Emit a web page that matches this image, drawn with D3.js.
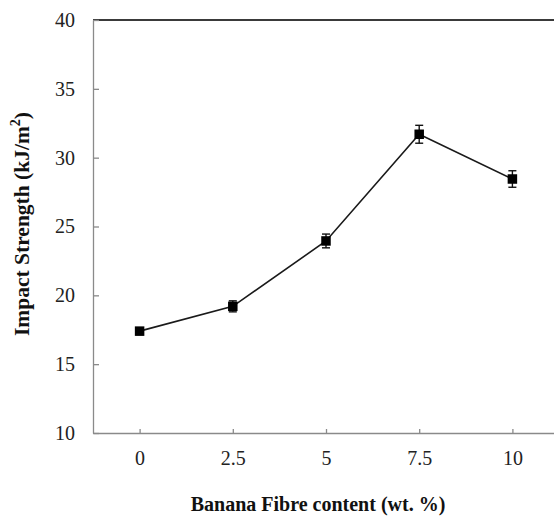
<!DOCTYPE html>
<html>
<head>
<meta charset="utf-8">
<script src="https://cdn.jsdelivr.net/npm/d3@7"></script>
<style>
  body { margin: 0; background: #fff; }
  svg { display: block; }
</style>
</head>
<body>
<div id="chart"></div>
<script>
// data
var fibre = ["0", "2.5", "5", "7.5", "10"];
var strength = [17.4, 19.2, 23.95, 31.7, 28.45];
var errors = [0.25, 0.4, 0.5, 0.65, 0.6];
var yTicks = [10, 15, 20, 25, 30, 35, 40];

var W = 554, H = 516;
var margin = {top: 20, right: -5, bottom: 83, left: 93},
    width = W - margin.left - margin.right,
    height = H - margin.top - margin.bottom;

var svg = d3.select("#chart")
  .append("svg")
    .attr("width", W)
    .attr("height", H)
  .append("g")
    .attr("transform", "translate(" + margin.left + "," + margin.top + ")");

var x = d3.scalePoint()
    .domain(fibre)
    .range([0, width])
    .padding(0.5);

var y = d3.scaleLinear()
    .domain([10, 40])
    .range([height, 0]);

var font = "'Liberation Serif', 'Times New Roman', serif";

// top border line
svg.append("line")
    .attr("x1", 0).attr("x2", width)
    .attr("y1", y(40)).attr("y2", y(40))
    .attr("stroke", "#3a3a3a")
    .attr("stroke-width", 2.2);

// y axis
var yAxis = svg.append("g")
    .call(d3.axisLeft(y).tickValues(yTicks).tickSize(-6).tickPadding(18).tickSizeOuter(0));
yAxis.select(".domain").attr("stroke", "#8a8a8a").attr("stroke-width", 1.3);
yAxis.selectAll(".tick line").attr("stroke", "#8a8a8a").attr("stroke-width", 1.3);
yAxis.selectAll("text")
    .attr("font-family", font)
    .attr("font-size", "20px")
    .attr("fill", "#222");

// x axis
var xAxis = svg.append("g")
    .attr("transform", "translate(0," + height + ")")
    .call(d3.axisBottom(x).tickSize(-4).tickPadding(18).tickSizeOuter(0));
xAxis.select(".domain").attr("stroke", "#8a8a8a").attr("stroke-width", 1.3);
xAxis.selectAll(".tick line").attr("stroke", "#8a8a8a").attr("stroke-width", 1.3);
xAxis.selectAll("text")
    .attr("font-family", font)
    .attr("font-size", "20px")
    .attr("fill", "#222");

var points = fibre.map(function(d, i) {
  return {cat: d, val: strength[i], err: errors[i]};
});

// connecting line
svg.append("path")
    .datum(points)
    .attr("fill", "none")
    .attr("stroke", "#1a1a1a")
    .attr("stroke-width", 1.6)
    .attr("d", d3.line()
      .x(function(d) { return x(d.cat); })
      .y(function(d) { return y(d.val); }));

// error bars
var eb = svg.append("g").selectAll("g")
    .data(points)
    .enter().append("g")
    .attr("stroke", "#111")
    .attr("stroke-width", 1.4);
eb.append("line")
    .attr("x1", function(d) { return x(d.cat); })
    .attr("x2", function(d) { return x(d.cat); })
    .attr("y1", function(d) { return y(d.val + d.err); })
    .attr("y2", function(d) { return y(d.val - d.err); });
eb.append("line")
    .attr("x1", function(d) { return x(d.cat) - 4; })
    .attr("x2", function(d) { return x(d.cat) + 4; })
    .attr("y1", function(d) { return y(d.val + d.err); })
    .attr("y2", function(d) { return y(d.val + d.err); });
eb.append("line")
    .attr("x1", function(d) { return x(d.cat) - 4; })
    .attr("x2", function(d) { return x(d.cat) + 4; })
    .attr("y1", function(d) { return y(d.val - d.err); })
    .attr("y2", function(d) { return y(d.val - d.err); });

// square markers
svg.append("g").selectAll("rect")
    .data(points)
    .enter().append("rect")
    .attr("x", function(d) { return x(d.cat) - 4.75; })
    .attr("y", function(d) { return y(d.val) - 4.75; })
    .attr("width", 9.5)
    .attr("height", 9.5)
    .attr("fill", "#000");

// axis titles
svg.append("text")
    .attr("x", 318 - margin.left)
    .attr("y", 511 - margin.top)
    .attr("text-anchor", "middle")
    .attr("font-family", font)
    .attr("font-weight", "bold")
    .attr("font-size", "20px")
    .attr("fill", "#111")
    .text("Banana Fibre content (wt. %)");

var yt = svg.append("text")
    .attr("transform", "translate(" + (29 - margin.left) + "," + (224 - margin.top) + ") rotate(-90)")
    .attr("text-anchor", "middle")
    .attr("font-family", font)
    .attr("font-weight", "bold")
    .attr("font-size", "21.5px")
    .attr("fill", "#111");
yt.append("tspan").text("Impact Strength (kJ/m");
yt.append("tspan").attr("font-size", "14px").attr("dy", "-9").text("2");
yt.append("tspan").attr("dy", "9").text(")");
</script>
</body>
</html>
